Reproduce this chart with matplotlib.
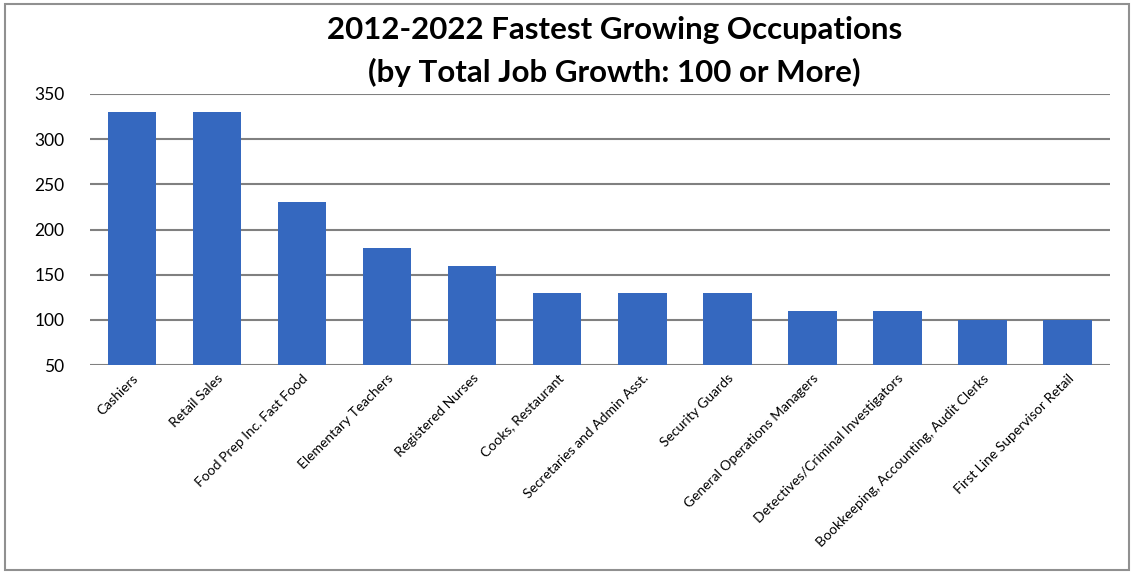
import matplotlib.pyplot as plt
from matplotlib.patches import Rectangle

occupations = [
    "Cashiers", "Retail Sales", "Food Prep Inc. Fast Food", "Elementary Teachers",
    "Registered Nurses", "Cooks, Restaurant", "Secretaries and Admin Asst.",
    "Security Guards", "General Operations Managers",
    "Detectives/Criminal Investigators", "Bookkeeping, Accounting, Audit Clerks",
    "First Line Supervisor Retail",
]
job_growth = [330, 330, 230, 180, 160, 130, 130, 130, 110, 110, 100, 100]
y_ticks = [50, 100, 150, 200, 250, 300, 350]

plt.rcParams['font.family'] = ['Lato', 'DejaVu Sans']

fig = plt.figure(figsize=(11.34, 5.73), dpi=100)
ax = fig.add_axes([89.5 / 1134, 1 - 365 / 573, (1110 - 89.5) / 1134, (365 - 94) / 573])

x = range(len(occupations))
ax.bar(x, job_growth, width=0.57, color='#3568bf', zorder=2)
ax.set_xlim(-0.5, len(occupations) - 0.5)
ax.set_ylim(50, 350)
ax.set_yticks(y_ticks)
ax.tick_params(axis='y', length=0, labelsize=12.5, pad=18)
ax.tick_params(axis='x', length=0, pad=5)
ax.set_xticks(list(x))
ax.set_xticklabels(occupations, rotation=45, ha='right', rotation_mode='anchor',
                   fontsize=10)
ax.grid(axis='y', color='#808080', linewidth=1.5, zorder=1)
for s in ['left', 'right', 'top', 'bottom']:
    ax.spines[s].set_visible(False)

fig.text(0.542, 0.948, "2012-2022 Fastest Growing Occupations", ha='center', va='center',
         fontsize=22.5, fontweight='bold')
fig.text(0.542, 0.874, "(by Total Job Growth: 100 or More)", ha='center', va='center',
         fontsize=22.5, fontweight='bold')

# chart border
fig.patches.append(Rectangle((5 / 1134, 3 / 573), 1124 / 1134, 566 / 573,
                             transform=fig.transFigure, fill=False,
                             edgecolor='#909090', linewidth=1.5))

fig.savefig('out.png', dpi=100)
